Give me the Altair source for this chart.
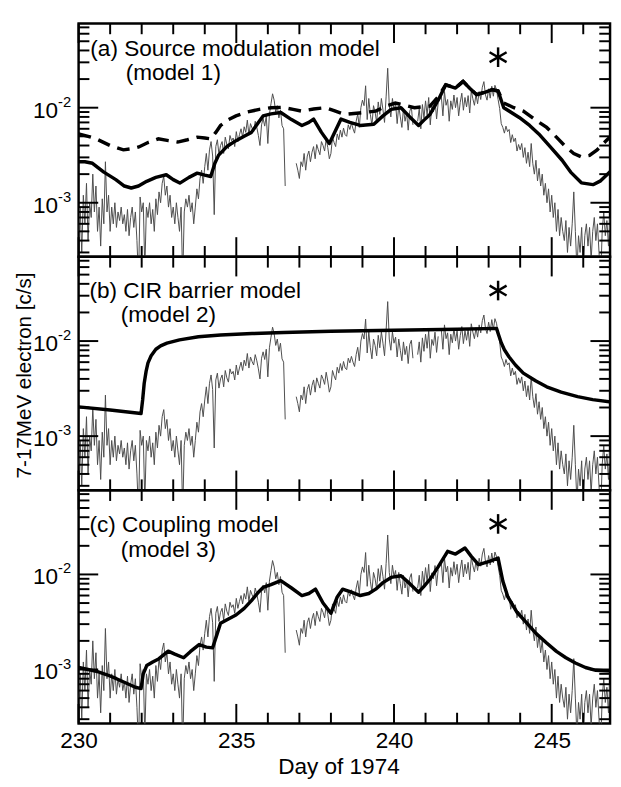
import math
import altair as alt
import pandas as pd

FONT = "Liberation Sans"
W, H = 542, 238
X_DOMAIN = [230, 246.85]
Y_DOMAIN = [2.7e-4, 0.077]

# ---- observed 7-17 MeV electron rate (units of 1e-3 c/s), sampled every 0.05 day from day 230.0
obs_start = 230.0
obs_step = 0.05
obs_230 = [0.5, 0.9, 0.3, 1.2, 0.6, 1.6, 0.4, 1.0, 0.7, 2.0, 0.8, 1.5, 0.5, 0.9, 0.35, 1.1, 0.6, 2.7, 0.8, 1.2]
obs_231 = [0.5, 0.9, 0.6, 1.0, 0.55, 0.8, 0.65, 0.9, 0.6, 0.75, 0.5, 0.85, 0.45, 0.7, 0.9, 0.55, 0.8, 0.4, 0.15, 1.15]
obs_232 = [0.8, 1.0, 0.2, 0.9, 0.7, 1.0, 0.6, 0.85, 0.5, 1.1, 0.75, 1.3, 1.0, 1.6, 1.9, 1.2, 1.5, 0.9, 1.2, 0.7]
obs_233 = [0.9, 0.6, 1.0, 0.7, 0.5, 0.9, 0.15, 0.8, 1.1, 0.9, 1.2, 0.8, 1.0, 0.6, 0.9, 1.4, 1.1, 1.8, 2.2, 1.6]
obs_234 = [2.4, 3.3, 2.2, 3.6, 4.4, 3.1, 0.75, 3.9, 4.6, 3.2, 4.0, 4.4, 3.3, 4.9, 4.1, 3.7, 5.1, 4.5, 4.8, 3.9]
obs_235 = [5.6, 4.4, 5.2, 6.0, 4.9, 6.3, 5.5, 7.4, 5.2, 6.8, 6.1, 5.6, 7.2, 6.2, 5.1, 4.0, 6.6, 7.7, 6.4, 8.2]
obs_236 = [4.2, 8.5, 11.0, 14.0, 12.0, 9.0, 10.5, 7.8, 9.5, 6.5, 6.0, 1.5, None, None, None, None, None, None, 2.6, 2.2]
obs_237 = [1.8, 2.7, 2.4, 3.3, 2.2, 3.1, 3.5, 2.7, 3.4, 3.9, 2.9, 4.1, 3.6, 3.2, 4.4, 4.0, 3.5, 4.7, 3.8, 2.9]
obs_238 = [3.3, 4.9, 4.3, 3.9, 5.3, 4.6, 5.8, 4.9, 6.1, 5.2, 5.0, 6.6, 5.9, 6.9, 6.0, 5.4, 7.2, 8.6, 6.2, 10.0]
obs_239 = [12.0, 10.5, 17.0, 7.5, 12.5, 8.5, 6.5, 10.5, 9.0, 7.0, 11.5, 8.5, 12.5, 9.5, 7.0, 13.0, 26.0, 10.5, 8.0, 12.5]
obs_240 = [9.5, 11.0, 6.8, 10.5, 8.0, 6.2, 9.8, 7.2, 8.8, 5.8, 9.2, 10.2, 6.6, None, None, 7.2, 9.8, 6.0, 10.8, 7.8]
obs_241 = [11.8, 8.4, 12.8, 6.6, 10.4, 9.0, 12.4, 7.6, 11.2, None, 13.2, 8.2, 14.8, 10.6, 12.2, 7.2, 11.8, 9.6, 13.6, 10.0]
obs_242 = [12.8, 8.2, 11.4, 14.2, 9.4, 12.8, 10.2, 13.4, 8.8, 15.2, 12.4, 10.6, 13.8, 11.0, 14.8, 12.2, 16.4, 18.8, 13.6, 12.0]
obs_243 = [15.8, 12.6, 16.8, 13.2, 17.2, 15.4, 12.2, 9.8, 6.8, 6.2, 5.4, 6.4, 5.6, 5.9, 4.3, 5.2, 4.4, 4.8, 3.5, 4.1]
obs_244 = [3.6, 4.2, 3.0, 3.8, 2.6, 3.4, 2.4, 4.2, 2.6, 2.0, 2.8, 1.7, 2.3, 1.5, 2.0, 1.2, 1.6, 1.0, 1.4, 0.8]
obs_245 = [1.2, 0.7, 1.0, 0.5, 0.85, 0.45, 0.7, 0.5, 0.4, 0.65, 0.3, 0.55, 0.35, 0.6, 1.3, 0.5, 0.2, 0.45, 0.3, 0.55]
obs_246 = [0.2, 0.45, 0.6, 0.35, 0.55, 0.25, 0.5, 0.7, 0.4, 0.6, 0.3, 0.15, 0.5, 0.8, 0.45, 0.65, 0.35, 0.7, 0.5]

# ---- model curves (day, rate in 1e-3 c/s)
m1_day = [230.0, 230.2, 230.44, 230.8, 231.18, 231.45, 231.67, 231.9, 232.16, 232.45, 232.78, 233.0, 233.21,
          233.5, 233.76, 234.0, 234.19, 234.32, 234.44, 234.7, 234.99, 235.25, 235.48, 235.7, 235.85, 236.1,
          236.41, 236.75, 237.08, 237.3, 237.45, 237.7, 237.95, 238.15, 238.32, 238.6, 238.93, 239.36, 239.65,
          239.91, 240.22, 240.5, 240.78, 240.95, 241.14, 241.4, 241.64, 241.95, 242.19, 242.4, 242.62, 242.9,
          243.11, 243.3, 243.48, 243.97, 244.3, 244.59, 244.95, 245.33, 245.6, 245.94, 246.31, 246.55, 246.9]
m1_val = [2.7, 2.7, 2.6, 2.1, 1.75, 1.5, 1.43, 1.5, 1.68, 1.85, 1.97, 1.75, 1.61,
          1.85, 2.05, 1.95, 1.89, 2.6, 3.17, 3.9, 4.5, 5.0, 5.5, 7.0, 8.2, 8.6,
          8.9, 7.5, 6.5, 7.0, 7.6, 5.5, 4.2, 5.8, 7.6, 7.0, 6.5, 6.7, 8.2,
          9.6, 10.0, 8.0, 6.5, 7.4, 8.5, 12.0, 17.4, 16.1, 18.9, 16.0, 13.7, 14.6,
          15.5, 15.0, 10.0, 7.9, 6.5, 5.3, 3.9, 2.8, 2.1, 1.62, 1.55, 1.7, 2.2]

m1d_day = [230.0, 230.3, 230.56, 231.0, 231.42, 231.7, 231.91, 232.2, 232.53, 232.85, 233.14, 233.45, 233.76,
           234.0, 234.19, 234.35, 234.5, 234.75, 234.99, 235.35, 235.73, 236.1, 236.47, 236.8, 237.08, 237.45,
           237.82, 238.1, 238.44, 238.9, 239.42, 239.75, 240.04, 240.35, 240.65, 240.9, 241.14, 241.4, 241.64,
           241.95, 242.19, 242.4, 242.62, 242.9, 243.11, 243.3, 243.48, 243.8, 244.1, 244.45, 244.84, 245.15,
           245.45, 245.7, 245.94, 246.2, 246.44, 246.7, 246.9]
m1d_val = [5.3, 5.0, 4.7, 4.0, 3.6, 3.7, 3.86, 4.3, 4.7, 4.5, 4.35, 4.6, 4.9,
           4.8, 4.7, 5.5, 6.5, 7.5, 8.2, 9.0, 9.6, 10.0, 10.1, 9.6, 9.2, 9.7,
           10.0, 9.3, 8.5, 8.8, 9.2, 10.4, 11.2, 10.6, 10.0, 10.2, 10.4, 13.0, 17.4,
           16.1, 18.9, 16.0, 13.7, 14.6, 15.5, 15.0, 11.2, 10.0, 9.2, 7.6, 6.2, 4.9,
           3.86, 3.3, 3.04, 3.15, 3.6, 4.4, 5.1]

m2_day = [230.0, 231.0, 231.98, 232.03, 232.08, 232.14, 232.2, 232.3, 232.45, 232.6, 232.8, 233.2, 233.8,
          234.5, 235.5, 236.5, 238.0, 240.0, 242.0, 243.25, 243.32, 243.4, 243.5, 243.65, 243.85, 244.1,
          244.5, 244.84, 245.3, 245.82, 246.3, 246.9]
m2_val = [2.03, 1.88, 1.73, 2.4, 3.6, 4.8, 5.9, 7.0, 8.2, 8.9, 9.5, 10.3, 11.1,
          11.6, 12.0, 12.3, 12.7, 13.0, 13.3, 13.6, 11.5, 9.6, 8.1, 6.8, 5.6, 4.6,
          3.8, 3.3, 2.9, 2.6, 2.42, 2.28]

m3_day = [230.0, 230.3, 230.6, 230.9, 231.2, 231.5, 231.8, 231.98, 232.05, 232.16, 232.35, 232.55, 232.84,
          233.05, 233.33, 233.55, 233.82, 234.05, 234.25, 234.38, 234.5, 234.75, 234.99, 235.25, 235.48,
          235.7, 235.85, 236.1, 236.41, 236.75, 237.08, 237.3, 237.51, 237.75, 238.0, 238.2, 238.37, 238.65,
          238.93, 239.2, 239.42, 239.65, 239.91, 240.22, 240.5, 240.78, 240.95, 241.14, 241.4, 241.7, 241.95,
          242.25, 242.45, 242.68, 243.05, 243.3, 243.45, 243.61, 243.9, 244.22, 244.5, 244.84, 245.15, 245.45,
          245.75, 246.07, 246.4, 246.9]
m3_val = [1.05, 1.0, 0.95, 0.88, 0.8, 0.72, 0.65, 0.63, 0.9, 1.1, 1.2, 1.3, 1.56,
          1.45, 1.33, 1.55, 1.83, 1.72, 1.69, 2.3, 3.06, 3.4, 3.74, 4.4, 5.3,
          6.5, 7.3, 7.8, 8.6, 7.2, 6.0, 6.3, 7.0, 5.0, 3.9, 5.8, 7.0, 6.5,
          6.0, 6.3, 7.0, 8.2, 9.3, 9.7, 8.0, 6.5, 7.5, 8.9, 12.0, 17.5, 16.4,
          19.0, 15.5, 12.7, 13.8, 14.9, 8.5, 5.8, 4.0, 3.06, 2.4, 1.9, 1.55, 1.33,
          1.17, 1.05, 0.98, 0.96]

# ---- axes / annotations
x_major = [230, 235, 240, 245]
x_minor = [231, 232, 233, 234, 236, 237, 238, 239, 241, 242, 243, 244, 246]
y_major = [1e-3, 1e-2]
y_minor = [3e-4, 4e-4, 5e-4, 6e-4, 7e-4, 8e-4, 9e-4,
           2e-3, 3e-3, 4e-3, 5e-3, 6e-3, 7e-3, 8e-3, 9e-3,
           2e-2, 3e-2, 4e-2, 5e-2, 6e-2, 7e-2]
y_label_vals = [1e-2, 1e-3]
y_label_base = ["10", "10"]
y_label_sup = ["-2", "-3"]
star_day = 243.3
star_val = 0.034
panel_line1 = ["(a) Source modulation model", "(b) CIR barrier model", "(c) Coupling model"]
panel_line2 = ["(model 1)", "(model 2)", "(model 3)"]
y_title = "7-17MeV electron [c/s]"
x_title = "Day of 1974"

MAJ, MIN = 20, 11   # inward tick lengths, px
STAR_R = 10         # asterisk arm length, px

# ---- build tables: observed trace split into continuous segments (gaps break the line)
obs_segments = [[]]
i = 0
for row in [obs_230, obs_231, obs_232, obs_233, obs_234, obs_235, obs_236, obs_237, obs_238,
            obs_239, obs_240, obs_241, obs_242, obs_243, obs_244, obs_245, obs_246]:
    for v in row:
        d = round(obs_start + obs_step * i, 3)
        i += 1
        if v is None:
            if obs_segments[-1]:
                obs_segments.append([])
            continue
        obs_segments[-1].append({"d": d, "v": v * 1e-3})
obs_dfs = [pd.DataFrame(s) for s in obs_segments if s]


def model_df(days, vals):
    return pd.DataFrame({"d": days, "v": [v * 1e-3 for v in vals]})


# asterisk arms, placed through the scale geometry around (star_day, star_val)
px_per_decade = H / math.log10(Y_DOMAIN[1] / Y_DOMAIN[0])
px_per_day = W / (X_DOMAIN[1] - X_DOMAIN[0])
star_arms = []
for ang in [90, 30, -30]:
    dx = STAR_R * math.cos(math.radians(ang)) / px_per_day
    fy = 10 ** (STAR_R * math.sin(math.radians(ang)) / px_per_decade)
    star_arms.append(pd.DataFrame({"d": [star_day - dx, star_day + dx],
                                   "v": [star_val / fy, star_val * fy]}))

xs = alt.Scale(domain=X_DOMAIN, nice=False, zero=False)
ys = alt.Scale(type="log", domain=Y_DOMAIN, nice=False)
FRAME = alt.ViewBackground(stroke="black", strokeWidth=2.5)


def panel(k, models, dashed=None, bottom=False):
    if bottom:
        xaxis = alt.Axis(values=x_major, labelFontSize=23, labelFont=FONT, labelColor="black",
                         ticks=False, tickSize=0, domain=False, grid=False, labelPadding=6,
                         labelFlush=False, title=x_title, titleFont=FONT, titleFontSize=23,
                         titleFontWeight="normal", titleColor="black", titlePadding=4, titleX=265)
    else:
        xaxis = None

    def X(f="d"):
        return alt.X(f"{f}:Q", scale=xs, axis=xaxis)

    def Y(f="v"):
        return alt.Y(f"{f}:Q", scale=ys, axis=None)

    layers = []
    for sdf in obs_dfs:
        layers.append(alt.Chart(sdf).mark_line(color="#4d4d4d", strokeWidth=1, clip=True).encode(
            x=X(), y=Y()))
    if dashed is not None:
        layers.append(alt.Chart(dashed).mark_line(color="black", strokeWidth=3.5, strokeDash=[13, 8],
                                                  clip=True).encode(x=X(), y=Y()))
    for m in models:
        layers.append(alt.Chart(m).mark_line(color="black", strokeWidth=3.5, strokeJoin="round",
                                             clip=True).encode(x=X(), y=Y()))
    # inward frame ticks
    for vals, L in [(x_major, MAJ), (x_minor, MIN)]:
        tdf = pd.DataFrame({"d": vals})
        layers.append(alt.Chart(tdf).mark_rule(color="black", strokeWidth=2).encode(
            x=X(), y=alt.value(H), y2=alt.value(H - L)))
        layers.append(alt.Chart(tdf).mark_rule(color="black", strokeWidth=2).encode(
            x=X(), y=alt.value(0), y2=alt.value(L)))
    for vals, L in [(y_major, MAJ), (y_minor, MIN)]:
        tdf = pd.DataFrame({"v": vals})
        layers.append(alt.Chart(tdf).mark_rule(color="black", strokeWidth=2).encode(
            y=Y(), x=alt.value(0), x2=alt.value(L)))
        layers.append(alt.Chart(tdf).mark_rule(color="black", strokeWidth=2).encode(
            y=Y(), x=alt.value(W), x2=alt.value(W - L)))
    lab = pd.DataFrame({"v": y_label_vals, "b": y_label_base, "s": y_label_sup})
    layers.append(alt.Chart(lab).mark_text(align="right", baseline="middle", fontSize=23, font=FONT,
                                           dy=3, color="black").encode(
        x=alt.value(-21), y=Y(), text="b:N"))
    layers.append(alt.Chart(lab).mark_text(align="left", baseline="middle", fontSize=15, font=FONT,
                                           dy=-6, color="black").encode(
        x=alt.value(-21), y=Y(), text="s:N"))
    pos1 = [(12, 26), (11, 35), (11, 36)][k]
    pos2 = [(48, 51), (43, 60), (43, 61)][k]
    layers.append(alt.Chart(pd.DataFrame({"t": [panel_line1[k]]})).mark_text(
        align="left", baseline="middle", fontSize=23, font=FONT, color="black").encode(
        x=alt.value(pos1[0]), y=alt.value(pos1[1]), text="t:N"))
    layers.append(alt.Chart(pd.DataFrame({"t": [panel_line2[k]]})).mark_text(
        align="left", baseline="middle", fontSize=23, font=FONT, color="black").encode(
        x=alt.value(pos2[0]), y=alt.value(pos2[1]), text="t:N"))
    for arm in star_arms:
        layers.append(alt.Chart(arm).mark_line(color="black", strokeWidth=2.5, strokeCap="butt").encode(
            x=X(), y=Y()))
    if k == 1:
        layers.append(alt.Chart(pd.DataFrame({"t": [y_title]})).mark_text(
            angle=270, align="center", baseline="middle", fontSize=21, font=FONT, color="black").encode(
            x=alt.value(-55), y=alt.value(H / 2 + 2), text="t:N"))
    return alt.layer(*layers, view=FRAME).properties(width=W, height=H)


pa = panel(0, [model_df(m1_day, m1_val)], dashed=model_df(m1d_day, m1d_val))
pb = panel(1, [model_df(m2_day, m2_val)])
pc = panel(2, [model_df(m3_day, m3_val)], bottom=True)

chart = alt.vconcat(pa, pb, pc, spacing=0, bounds="flush").properties(
    padding={"left": 4, "top": 5, "right": 0, "bottom": 0},
    background="white",
)

chart.save("out.html", embed_options={"renderer": "svg", "actions": False})
